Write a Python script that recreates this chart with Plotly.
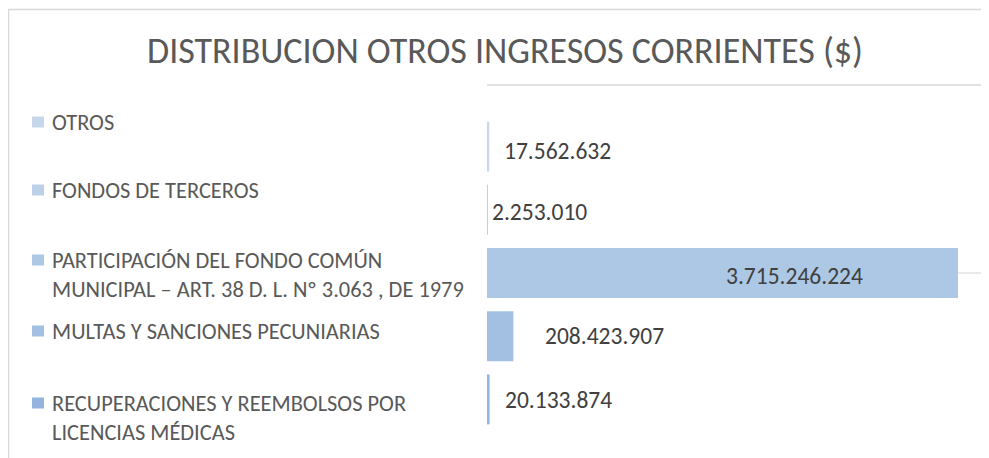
import plotly.graph_objects as go

# ---- data ----
categories = [
    "OTROS",
    "FONDOS DE TERCEROS",
    "PARTICIPACIÓN DEL FONDO COMÚN MUNICIPAL – ART. 38 D. L. Nº 3.063 , DE 1979",
    "MULTAS Y SANCIONES PECUNIARIAS",
    "RECUPERACIONES Y REEMBOLSOS POR LICENCIAS MÉDICAS",
]
legend_lines = [
    ["OTROS"],
    ["FONDOS DE TERCEROS"],
    ["PARTICIPACIÓN DEL FONDO COMÚN", "MUNICIPAL – ART. 38 D. L. Nº 3.063 , DE 1979"],
    ["MULTAS Y SANCIONES PECUNIARIAS"],
    ["RECUPERACIONES Y REEMBOLSOS POR", "LICENCIAS MÉDICAS"],
]
values = [17562632, 2253010, 3715246224, 208423907, 20133874]
title_text = "DISTRIBUCION OTROS INGRESOS CORRIENTES ($)"

# ---- style ----
colors = ["#c6d7eb", "#bcd0e8", "#adc8e5", "#a3c0e2", "#93b4de"]
FONT = "Carlito, Lato, sans-serif"
OFF = 8  # page body margin
W, H = 989 - OFF, 458 - OFF
ML, MR, MT = 487 - OFF, 0, 115 - OFF
MB = H - (431 - OFF)
PW, PH = W - ML - MR, H - MT - MB

def px(x):  # page pixel -> paper x
    return (x - OFF - ML) / PW

def py(y):  # page pixel -> paper y
    return (H - MB - (y - OFF)) / PH

# label placement (xanchor, xshift, yshift)
label_place = [("left", 13, -4), ("left", 3, -2), ("right", -93, -3), ("left", 30, 0), ("left", 13, -1)]
legend_y = [122, 190, 260, 331, 403]
LEG_SIZE = 22.4
line_gap = LEG_SIZE * 1.3

def fmt(v):
    return f"{v:,}".replace(",", ".")

fig = go.Figure()
fig.add_trace(go.Bar(
    y=categories, x=values, orientation="h",
    marker=dict(color=colors, line=dict(width=0)),
    hoverinfo="x+y", showlegend=False,
))

ann = []
for c, v, (xa, xs, ys) in zip(categories, values, label_place):
    ann.append(dict(x=v, y=c, xref="x", yref="y", text=fmt(v), showarrow=False,
                    xanchor=xa, xshift=xs, yshift=ys,
                    font=dict(family=FONT, size=23.5, color="#404040")))

shapes = []
for lines, y0, col in zip(legend_lines, legend_y, colors):
    shapes.append(dict(type="rect", xref="paper", yref="paper",
                       x0=px(32), x1=px(44), y0=py(y0 - 5.5), y1=py(y0 + 5.5),
                       fillcolor=col, line=dict(width=0)))
    yc = y0 + (len(lines) - 1) * line_gap / 2
    ann.append(dict(x=px(50), y=py(yc), xref="paper", yref="paper",
                    text="<br>".join(lines), showarrow=False, xanchor="left", yanchor="middle",
                    align="left",
                    font=dict(family=FONT, size=LEG_SIZE, color="#595959")))

# frame
shapes.append(dict(type="line", xref="paper", yref="paper", x0=px(8.5), x1=px(8.5), y0=py(9), y1=py(470),
                   line=dict(color="#d9d9d9", width=1.5)))
shapes.append(dict(type="line", xref="paper", yref="paper", x0=px(8), x1=px(1000), y0=py(9.5), y1=py(9.5),
                   line=dict(color="#d9d9d9", width=1.5)))
# gridlines
shapes.append(dict(type="line", xref="paper", yref="paper", x0=0, x1=1, y0=py(85), y1=py(85),
                   line=dict(color="#d9d9d9", width=1.5), layer="below"))
shapes.append(dict(type="line", xref="paper", yref="y", x0=0, x1=1, y0=categories[2], y1=categories[2],
                   line=dict(color="#e3e3e3", width=1.5), layer="below"))

fig.update_layout(
    width=W, height=H,
    margin=dict(l=ML, r=MR, t=MT, b=MB),
    paper_bgcolor="white", plot_bgcolor="white",
    title=dict(text=title_text, x=(505 - OFF) / W, xanchor="center", y=1 - (50 - OFF) / H, yanchor="middle",
               font=dict(family=FONT, size=36, color="#595959")),
    xaxis=dict(range=[0, 3.96e9], showgrid=False, zeroline=False, showticklabels=False, showline=False),
    yaxis=dict(autorange="reversed", showgrid=False, showticklabels=False, showline=False, zeroline=False),
    bargap=0.21,
    annotations=ann,
    shapes=shapes,
)

fig.write_html("out.html")
